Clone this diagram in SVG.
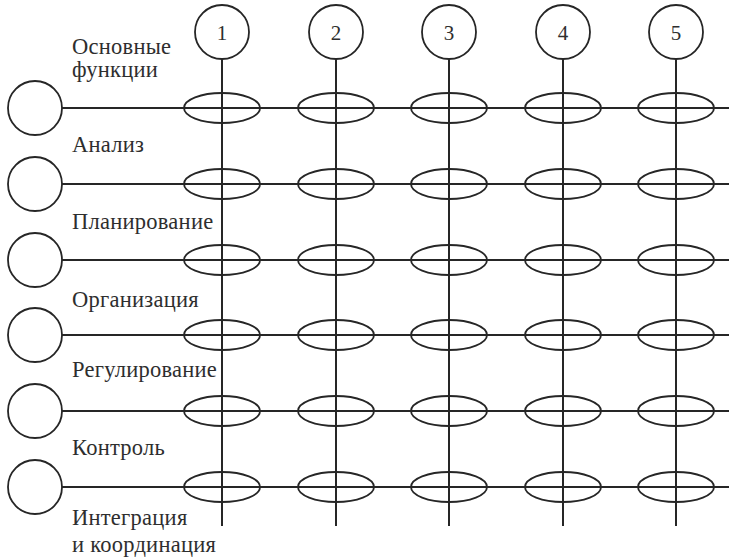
<svg xmlns="http://www.w3.org/2000/svg" width="729" height="559" viewBox="0 0 729 559">
<style>
.ln{stroke:#262626;stroke-width:2;fill:none}
.c{stroke:#262626;stroke-width:1.8;fill:none}
.e{stroke:#262626;stroke-width:1.8;fill:none}
.t{font-size:22.5px;letter-spacing:0.25px;fill:#2e2e2e}
.n{font-size:21px;fill:#2e2e2e;text-anchor:middle}
</style>
<rect width="729" height="559" fill="#ffffff"/>
<g id="connectors">
<line class="ln" x1="222" y1="59" x2="222" y2="526"/>
<line class="ln" x1="336" y1="59" x2="336" y2="526"/>
<line class="ln" x1="449" y1="59" x2="449" y2="526"/>
<line class="ln" x1="563" y1="59" x2="563" y2="526"/>
<line class="ln" x1="676" y1="59" x2="676" y2="526"/>
<line class="ln" x1="62" y1="108" x2="729" y2="108"/>
<line class="ln" x1="62" y1="184" x2="729" y2="184"/>
<line class="ln" x1="62" y1="260" x2="729" y2="260"/>
<line class="ln" x1="62" y1="335" x2="729" y2="335"/>
<line class="ln" x1="62" y1="411" x2="729" y2="411"/>
<line class="ln" x1="62" y1="487" x2="729" y2="487"/>
</g>
<g font-family="'Liberation Serif', 'DejaVu Serif', serif">
<g id="col1"><circle class="c" cx="222" cy="32" r="27"/><text class="n" x="222" y="40">1</text></g>
<g id="col2"><circle class="c" cx="336" cy="32" r="27"/><text class="n" x="336" y="40">2</text></g>
<g id="col3"><circle class="c" cx="449" cy="32" r="27"/><text class="n" x="449" y="40">3</text></g>
<g id="col4"><circle class="c" cx="563" cy="32" r="27"/><text class="n" x="563" y="40">4</text></g>
<g id="col5"><circle class="c" cx="676" cy="32" r="27"/><text class="n" x="676" y="40">5</text></g>
</g>
<g id="row1"><circle class="c" cx="35" cy="108" r="27"/></g>
<g id="row2"><circle class="c" cx="35" cy="184" r="27"/></g>
<g id="row3"><circle class="c" cx="35" cy="260" r="27"/></g>
<g id="row4"><circle class="c" cx="35" cy="335" r="27"/></g>
<g id="row5"><circle class="c" cx="35" cy="411" r="27"/></g>
<g id="row6"><circle class="c" cx="35" cy="487" r="27"/></g>
<g id="junctions">
<g id="r1"><ellipse class="e" cx="222" cy="108" rx="38" ry="15"/><ellipse class="e" cx="336" cy="108" rx="38" ry="15"/><ellipse class="e" cx="449" cy="108" rx="38" ry="15"/><ellipse class="e" cx="563" cy="108" rx="38" ry="15"/><ellipse class="e" cx="676" cy="108" rx="38" ry="15"/></g>
<g id="r2"><ellipse class="e" cx="222" cy="184" rx="38" ry="15"/><ellipse class="e" cx="336" cy="184" rx="38" ry="15"/><ellipse class="e" cx="449" cy="184" rx="38" ry="15"/><ellipse class="e" cx="563" cy="184" rx="38" ry="15"/><ellipse class="e" cx="676" cy="184" rx="38" ry="15"/></g>
<g id="r3"><ellipse class="e" cx="222" cy="260" rx="38" ry="15"/><ellipse class="e" cx="336" cy="260" rx="38" ry="15"/><ellipse class="e" cx="449" cy="260" rx="38" ry="15"/><ellipse class="e" cx="563" cy="260" rx="38" ry="15"/><ellipse class="e" cx="676" cy="260" rx="38" ry="15"/></g>
<g id="r4"><ellipse class="e" cx="222" cy="335" rx="38" ry="15"/><ellipse class="e" cx="336" cy="335" rx="38" ry="15"/><ellipse class="e" cx="449" cy="335" rx="38" ry="15"/><ellipse class="e" cx="563" cy="335" rx="38" ry="15"/><ellipse class="e" cx="676" cy="335" rx="38" ry="15"/></g>
<g id="r5"><ellipse class="e" cx="222" cy="411" rx="38" ry="15"/><ellipse class="e" cx="336" cy="411" rx="38" ry="15"/><ellipse class="e" cx="449" cy="411" rx="38" ry="15"/><ellipse class="e" cx="563" cy="411" rx="38" ry="15"/><ellipse class="e" cx="676" cy="411" rx="38" ry="15"/></g>
<g id="r6"><ellipse class="e" cx="222" cy="487" rx="38" ry="15"/><ellipse class="e" cx="336" cy="487" rx="38" ry="15"/><ellipse class="e" cx="449" cy="487" rx="38" ry="15"/><ellipse class="e" cx="563" cy="487" rx="38" ry="15"/><ellipse class="e" cx="676" cy="487" rx="38" ry="15"/></g>
</g>
<g id="labels" font-family="'Liberation Serif', 'DejaVu Serif', serif">
<text class="t" x="72" y="54">Основные</text>
<text class="t" x="72" y="77">функции</text>
<text class="t" x="72" y="152">Анализ</text>
<text class="t" x="72" y="229">Планирование</text>
<text class="t" x="72" y="307">Организация</text>
<text class="t" x="72" y="377">Регулирование</text>
<text class="t" x="72" y="455">Контроль</text>
<text class="t" x="72" y="525">Интеграция</text>
<text class="t" x="72" y="552">и координация</text>
</g>
</svg>
